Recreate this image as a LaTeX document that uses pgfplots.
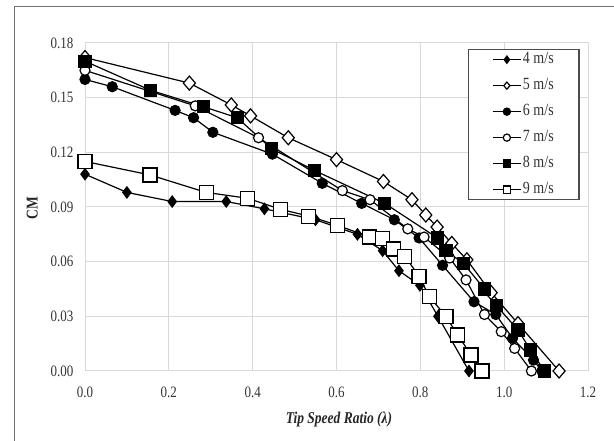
\documentclass[border=0pt]{standalone}
\usepackage{graphicx}
\usepackage{pgfplots}
\pgfplotsset{compat=1.18}
\usepackage{fontspec}
\setmainfont{Liberation Serif}
\definecolor{gridc}{HTML}{D9D9D9}
\definecolor{txtc}{HTML}{333333}
\newcommand\tall[1]{\scalebox{1}[1.22]{#1}}
\begin{document}
\begin{tikzpicture}
\useasboundingbox (0,0) rectangle (614bp,441bp);
\draw[color=black!55, line width=1bp] (14bp,0) -- (14bp,434bp) -- (614bp,434bp);
\begin{axis}[
  at={(85bp,70bp)}, anchor=south west,
  scale only axis, width=503bp, height=328bp,
  xmin=0, xmax=1.2, ymin=0, ymax=0.18,
  xtick={0,0.2,0.4,0.6,0.8,1.0,1.2},
  ytick={0,0.03,0.06,0.09,0.12,0.15,0.18},
  major tick length=0pt,
  grid=major, grid style={gridc, line width=1bp},
  axis line style={gridc, line width=1bp},
  /pgf/number format/assume math mode=true,
  xticklabel={\tall{\pgfmathprintnumber[fixed,fixed zerofill,precision=1,assume math mode=true]{\tick}}},
  yticklabel={\tall{\pgfmathprintnumber[fixed,fixed zerofill,precision=2,assume math mode=true]{\tick}}},
  xticklabel style={yshift=-12bp},
  yticklabel style={xshift=-8bp},
  tick label style={font=\fontsize{13bp}{15bp}\selectfont, text=txtc},
  xlabel={\tall{\textbf{\textit{Tip Speed Ratio (λ)}}}},
  ylabel={\tall{\textbf{CM}}},
  xlabel style={at={(axis description cs:0.505,-0.149)}, anchor=center, font=\fontsize{13.5bp}{16bp}\selectfont, text=black!85},
  ylabel style={at={(axis description cs:-0.105,0.497)}, anchor=center, font=\fontsize{13.5bp}{16bp}\selectfont, text=black!85},
  legend style={at={(rel axis cs:0.984,0.982)}, anchor=north east,
    draw=black!70, line width=1.5bp, fill=white,
    inner xsep=24bp, inner ysep=2bp,
    font=\fontsize{14bp}{16bp}\selectfont, text=txtc,
    row sep=10bp,
    nodes={inner sep=1.5bp, text height=10bp, text depth=3bp}},
  legend cell align=left,
  legend image code/.code={\draw[mark repeat=2,mark phase=2,line width=1.2bp, mark size=3.6bp] plot coordinates {(0bp,0bp)(14bp,0bp)(28bp,0bp)};},
  every axis plot/.append style={black, line width=1.2bp},
]
\addplot[mark=diamond*, mark size=5.5bp, mark options={fill=black, solid}] coordinates {
(0,0.108)(0.100,0.098)(0.208,0.093)(0.337,0.093)(0.428,0.089)(0.55,0.083)(0.65,0.075)(0.71,0.066)(0.749,0.055)(0.799,0.047)(0.842,0.030)(0.916,0.000)};
\addlegendentry{\tall{4 m/s}}
\addplot[mark=diamond*, mark size=7bp, mark options={fill=white, solid, xscale=1.15}] coordinates {
(0,0.172)(0.249,0.158)(0.349,0.146)(0.395,0.140)(0.485,0.128)(0.600,0.116)(0.712,0.104)(0.780,0.094)(0.813,0.0856)(0.840,0.079)(0.875,0.070)(0.911,0.061)(0.969,0.043)(1.033,0.026)(1.131,0.000)};
\addlegendentry{\tall{5 m/s}}
\addplot[mark=*, mark size=5bp, mark options={fill=black, solid}] coordinates {
(0,0.160)(0.065,0.156)(0.215,0.143)(0.259,0.139)(0.305,0.131)(0.447,0.119)(0.566,0.103)(0.66,0.092)(0.738,0.083)(0.797,0.073)(0.853,0.058)(0.928,0.038)(0.98,0.031)(1.02,0.018)(1.07,0.006)(1.09,0.000)};
\addlegendentry{\tall{6 m/s}}
\addplot[mark=*, mark size=5bp, mark options={fill=white, solid}] coordinates {
(0,0.165)(0.263,0.1455)(0.414,0.128)(0.614,0.099)(0.680,0.094)(0.770,0.078)(0.809,0.0735)(0.87,0.062)(0.909,0.050)(0.953,0.031)(0.993,0.0216)(1.025,0.0124)(1.065,0.000)};
\addlegendentry{\tall{7 m/s}}
\addplot[mark=square*, mark size=6bp, mark options={fill=black, solid}] coordinates {
(0,0.170)(0.157,0.154)(0.283,0.145)(0.363,0.139)(0.445,0.122)(0.548,0.110)(0.715,0.092)(0.841,0.073)(0.861,0.066)(0.903,0.059)(0.953,0.045)(0.981,0.036)(1.033,0.0225)(1.063,0.0115)(1.096,0.000)};
\addlegendentry{\tall{8 m/s}}
\addplot[mark=square*, mark size=7bp, mark options={fill=white, solid}] coordinates {
(0,0.115)(0.155,0.1076)(0.289,0.098)(0.388,0.0948)(0.467,0.0887)(0.534,0.085)(0.602,0.080)(0.679,0.0735)(0.709,0.0725)(0.736,0.067)(0.763,0.063)(0.797,0.052)(0.821,0.041)(0.861,0.030)(0.889,0.0198)(0.921,0.0088)(0.947,0.000)};
\addlegendentry{\tall{9 m/s}}
\end{axis}
\end{tikzpicture}
\end{document}
